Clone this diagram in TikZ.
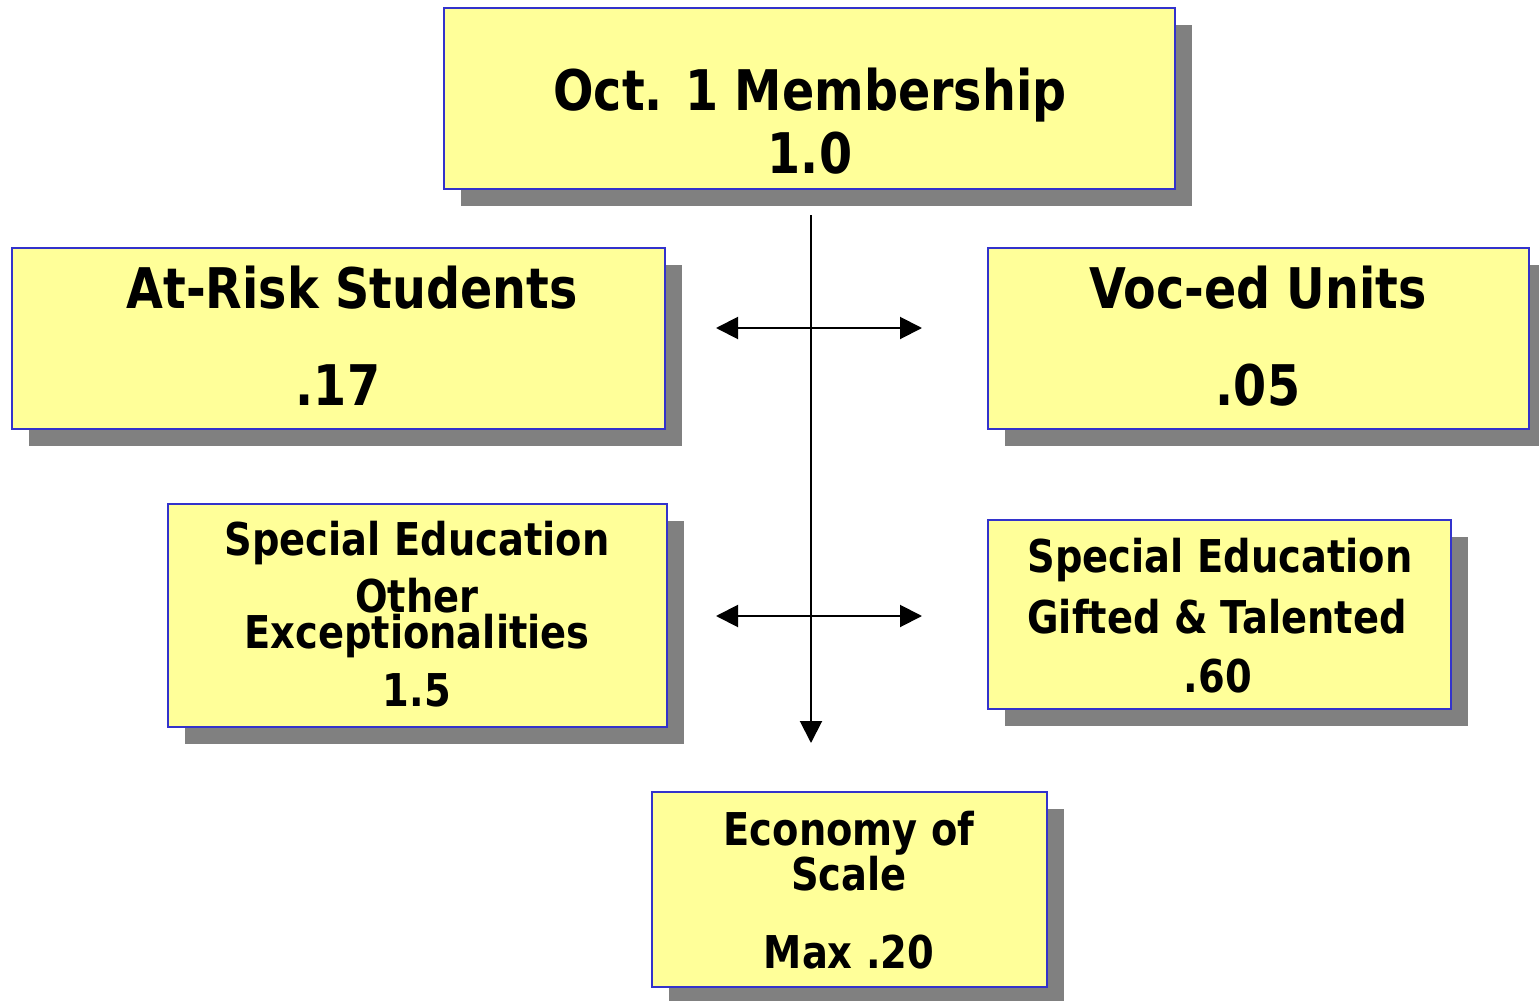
\documentclass[tikz,border=0pt]{standalone}
\usepackage{fontspec}
\setmainfont{DejaVu Sans}[FakeStretch=0.85]
\usetikzlibrary{shadows, arrows.meta}

\definecolor{boxfill}{HTML}{FFFF99}
\definecolor{boxline}{HTML}{3333CC}
\definecolor{shade}{HTML}{808080}

\tikzset{
  box/.style={draw=boxline, line width=1pt, fill=boxfill, inner sep=0pt, outer sep=0pt,
    drop shadow={shadow xshift=8.5pt, shadow yshift=-8.5pt, fill=shade, opacity=1}},
  big/.style={anchor=base, font=\bfseries\fontsize{28}{30}\selectfont},
  small/.style={anchor=base, font=\bfseries\fontsize{22.6}{26}\selectfont},
  link/.style={line width=1pt, -{Triangle[length=11pt, width=11pt]}},
  both/.style={line width=1pt, {Triangle[length=11pt, width=11pt]}-{Triangle[length=11pt, width=11pt]}},
}

\begin{document}
\begin{tikzpicture}[x=0.5pt, y=-0.5pt]
  \useasboundingbox (0,0) rectangle (1539,1001);

  % boxes
  \node[box, minimum width=365.5pt, minimum height=90.5pt] (member) at (809.5,98.5) {};
  \node[box, minimum width=326.5pt, minimum height=90.5pt] (risk) at (338.5,338.5) {};
  \node[box, minimum width=270.5pt, minimum height=90.5pt] (voc) at (1258.5,338.5) {};
  \node[box, minimum width=249.5pt, minimum height=111.5pt] (other) at (417.5,615.5) {};
  \node[box, minimum width=231.5pt, minimum height=94.5pt] (gifted) at (1219.5,614.5) {};
  \node[box, minimum width=197.5pt, minimum height=97.5pt] (scale) at (849.5,889.5) {};

  % texts
  \node[big] (member-t) at (810,110) {Oct. 1 Membership};
  \node[big] (member-v) at (810,173) {1.0};
  \node[big] (risk-t) at (352,308) {At-Risk Students};
  \node[big] (risk-v) at (338,405) {.17};
  \node[big] (voc-t) at (1258,308) {Voc-ed Units};
  \node[big] (voc-v) at (1258,405) {.05};
  \node[small] (other-t) at (417,555) {Special Education};
  \node[small] (other-u) at (417,612) {Other};
  \node[small] (other-w) at (417,648) {Exceptionalities};
  \node[small] (other-v) at (417,706) {1.5};
  \node[small] (gifted-t) at (1220,572) {Special Education};
  \node[small] (gifted-u) at (1217,633) {Gifted \& Talented};
  \node[small] (gifted-v) at (1218,692) {.60};
  \node[small] (scale-t) at (849,845) {Economy of};
  \node[small] (scale-u) at (849,890) {Scale};
  \node[small] (scale-v) at (849,968) {Max .20};

  % arrows
  \coordinate (top) at (811,215);
  \coordinate (bottom) at (811,743);
  \coordinate (risk-e) at (716,328);
  \coordinate (voc-w) at (922,328);
  \coordinate (other-e) at (716,616);
  \coordinate (gifted-w) at (922,616);
  \draw[link] (top) -- (bottom);
  \draw[both] (risk-e) -- (voc-w);
  \draw[both] (other-e) -- (gifted-w);
\end{tikzpicture}
\end{document}
